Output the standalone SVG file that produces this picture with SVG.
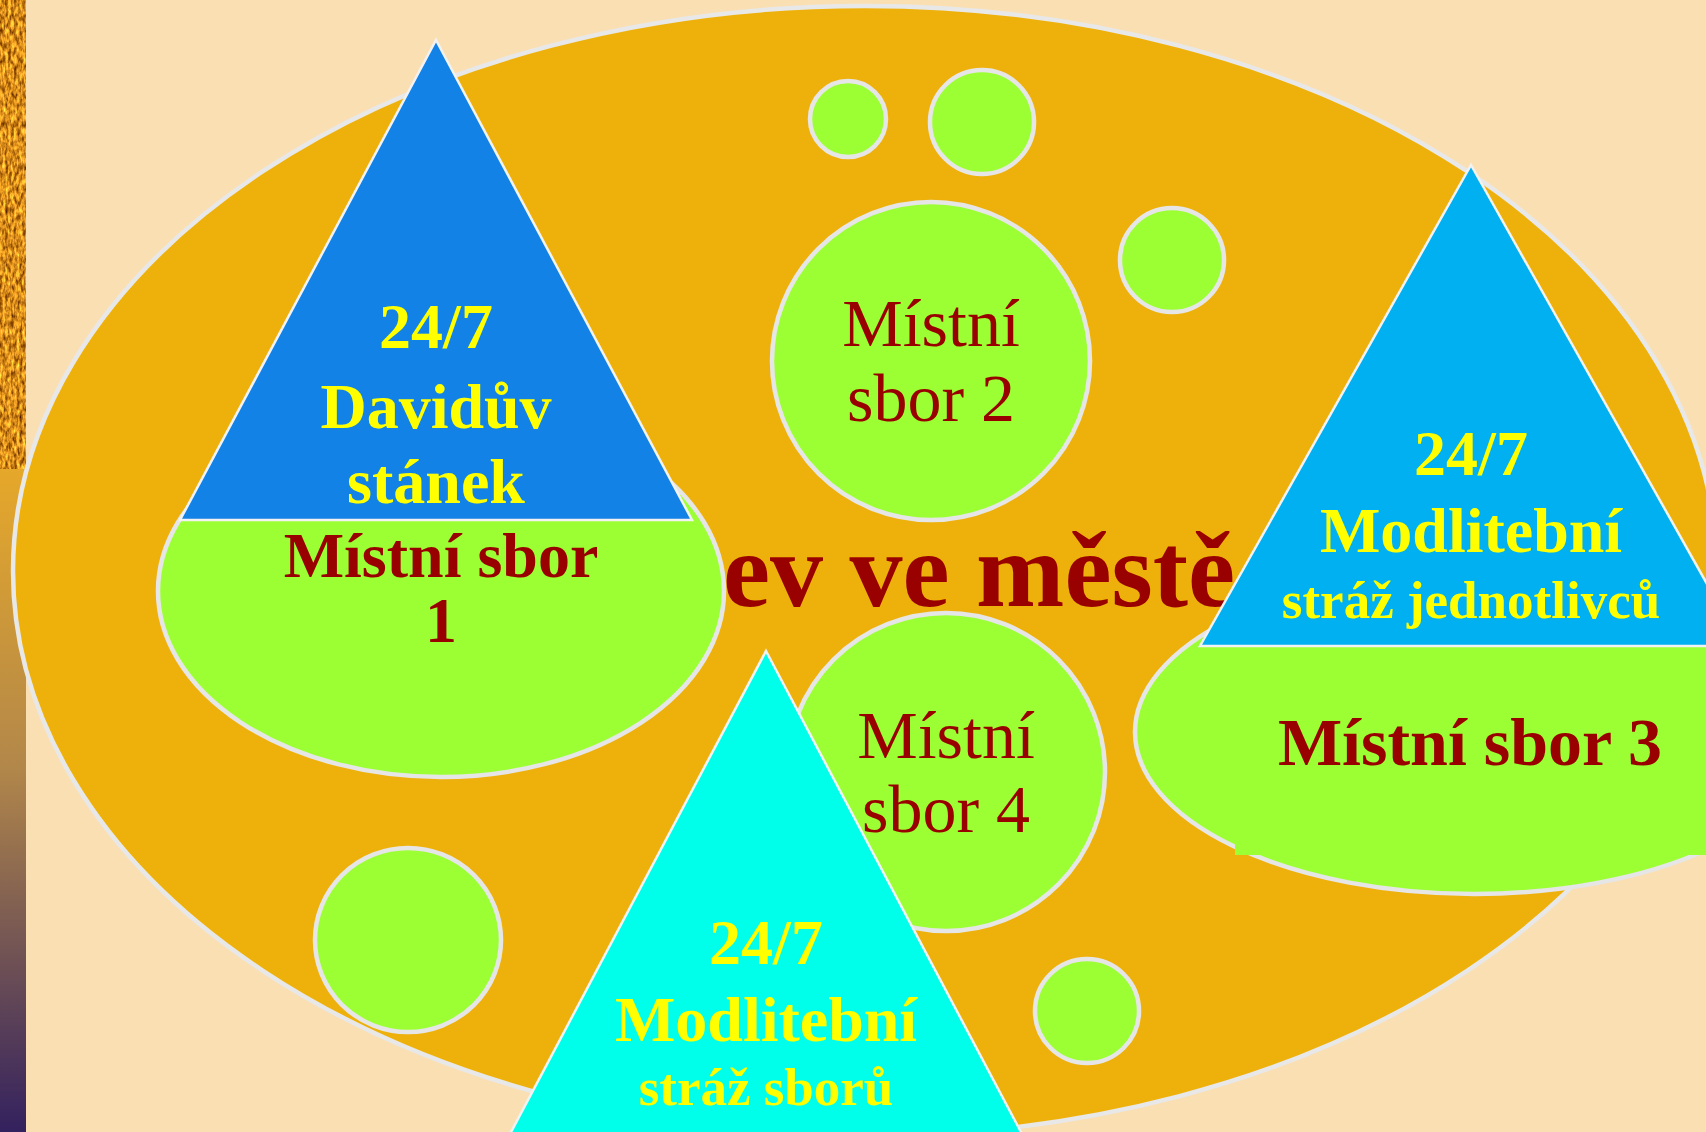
<svg xmlns="http://www.w3.org/2000/svg" width="1706" height="1132" viewBox="0 0 1706 1132">
<defs>
<linearGradient id="stripGrad" x1="0" y1="0" x2="0" y2="1">
<stop offset="0" stop-color="#E6A82A"/>
<stop offset="0.45" stop-color="#B2874A"/>
<stop offset="1" stop-color="#33215E"/>
</linearGradient>
<filter id="sand" x="0" y="0" width="100%" height="100%" color-interpolation-filters="sRGB">
<feTurbulence type="fractalNoise" baseFrequency="0.35 0.14" numOctaves="3" seed="4"/>
<feColorMatrix type="matrix" values="1.3 0 0 0 0.2  1.1 0 0 0 0.0  0.45 0 0 0 -0.12  0 0 0 0 1"/>
</filter>
<style>
.green{fill:#9BFF33;stroke:#E6E6E6;stroke-width:4.5}
.tri{stroke:#F2F2F2;stroke-width:2.5}
.yb{font-family:"Liberation Serif","Times New Roman",serif;font-weight:bold;fill:#FFFF00;text-anchor:middle}
.rb{font-family:"Liberation Serif","Times New Roman",serif;font-weight:bold;fill:#990000;text-anchor:middle}
.rr{font-family:"Liberation Serif","Times New Roman",serif;fill:#990000;text-anchor:middle}
</style>
</defs>
<rect x="0" y="0" width="1706" height="1132" fill="#FADFB3"/>
<g id="strip">
<rect x="0" y="0" width="26" height="469" fill="#C98A2E"/>
<rect x="0" y="0" width="26" height="469" filter="url(#sand)"/>
<rect x="0" y="469" width="26" height="663" fill="url(#stripGrad)"/>
</g>
<g id="city">
<ellipse cx="865" cy="571" rx="852" ry="565" fill="#EEB10C" stroke="#E8E8E8" stroke-width="4.5"/>
<text x="723" y="606" class="rb" style="text-anchor:start" font-size="106">ev ve městě</text>
</g>
<g id="small-circles">
<circle cx="848" cy="119" r="38" class="green"/>
<circle cx="982" cy="122" r="52" class="green"/>
<circle cx="1172" cy="260" r="52" class="green"/>
<ellipse cx="408" cy="940" rx="93" ry="92" class="green"/>
<circle cx="1087" cy="1011" r="52" class="green"/>
</g>
<g id="sbor2">
<circle cx="931" cy="361" r="159" class="green"/>
<text x="931" y="346" class="rr" font-size="68">Místní</text>
<text x="931" y="421" class="rr" font-size="68">sbor 2</text>
</g>
<g id="sbor4">
<circle cx="946" cy="772" r="159" class="green"/>
<text x="946" y="758" class="rr" font-size="68">Místní</text>
<text x="946" y="832" class="rr" font-size="68">sbor 4</text>
</g>
<g id="sbor1">
<ellipse cx="441" cy="591" rx="283" ry="186" class="green"/>
<text x="441" y="577" class="rb" font-size="64">Místní sbor</text>
<text x="441" y="642" class="rb" font-size="64">1</text>
</g>
<g id="davidstanek">
<polygon points="436,40 692,520 180,520" fill="#1282E6" class="tri"/>
<text x="436" y="348" class="yb" font-size="64">24/7</text>
<text x="436" y="428" class="yb" font-size="64">Davidův</text>
<text x="436" y="503" class="yb" font-size="64">stánek</text>
</g>
<g id="sbor3">
<ellipse cx="1474" cy="732" rx="339" ry="162" class="green"/>
<rect x="1235" y="740" width="471" height="115" fill="#9BFF33"/>
<text x="1470" y="765" class="rb" font-size="68">Místní sbor 3</text>
</g>
<g id="straz-jednotlivcu">
<polygon points="1471,165 1742,646 1200,646" fill="#00B0F0" class="tri"/>
<text x="1471" y="475" class="yb" font-size="64">24/7</text>
<text x="1471" y="552" class="yb" font-size="64">Modlitební</text>
<text x="1471" y="618" class="yb" font-size="53">stráž jednotlivců</text>
</g>
<g id="straz-sboru">
<polygon points="766,651 1057,1200 475,1200" fill="#00FFEA" class="tri"/>
<text x="766" y="964" class="yb" font-size="64">24/7</text>
<text x="766" y="1041" class="yb" font-size="64">Modlitební</text>
<text x="766" y="1105" class="yb" font-size="53">stráž sborů</text>
</g>
<g id="connectors"/>
</svg>
